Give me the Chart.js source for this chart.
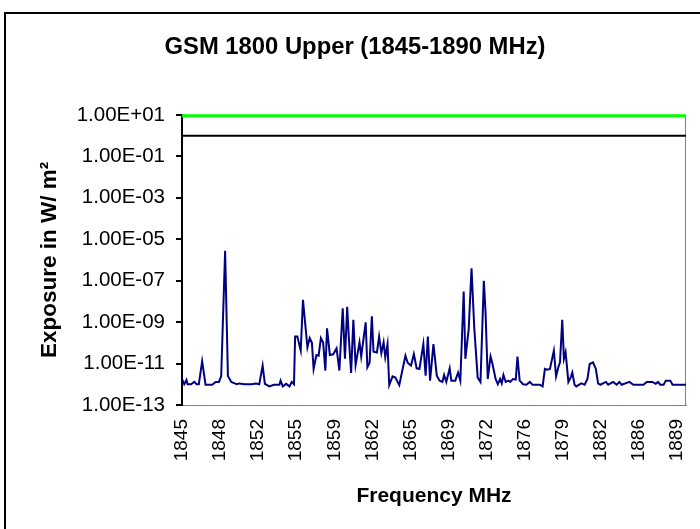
<!DOCTYPE html>
<html>
<head>
<meta charset="utf-8">
<script src="https://cdn.jsdelivr.net/npm/chart.js@4.4.1/dist/chart.umd.min.js"></script>
<style>
  body { margin: 0; background: #fff; }
  #wrap { width: 700px; height: 529px; }
</style>
</head>
<body>
<div id="wrap"><canvas id="gsmChart" width="700" height="529"></canvas></div>
<script>
const freq = [
    1845.0, 1845.2, 1845.4, 1845.5, 1845.8, 1846.1, 1846.3, 1846.5, 1846.8, 1847.1,
    1847.7, 1848.0, 1848.3, 1848.5, 1848.85, 1849.1, 1849.4, 1849.7, 1849.9, 1850.1,
    1850.6, 1851.2, 1851.6, 1851.9, 1852.2, 1852.4, 1852.8, 1853.2, 1853.7, 1853.8,
    1854.0, 1854.3, 1854.6, 1854.8, 1855.0, 1855.1, 1855.3, 1855.6, 1855.8, 1856.2,
    1856.4, 1856.6, 1856.75, 1857.0, 1857.2, 1857.4, 1857.6, 1857.8, 1857.95, 1858.2,
    1858.5, 1858.8, 1859.05, 1859.35, 1859.55, 1859.75, 1859.9, 1860.1, 1860.3, 1860.5,
    1860.85, 1861.0, 1861.4, 1861.55, 1861.75, 1861.95, 1862.1, 1862.4, 1862.6, 1862.8,
    1863.0, 1863.15, 1863.35, 1863.5, 1863.8, 1864.05, 1864.4, 1864.65, 1864.95, 1865.15,
    1865.45, 1865.7, 1865.95, 1866.2, 1866.55, 1866.75, 1866.95, 1867.15, 1867.45, 1867.75,
    1868.0, 1868.25, 1868.4, 1868.6, 1868.9, 1869.05, 1869.4, 1869.65, 1869.85, 1870.15,
    1870.3, 1870.6, 1870.85, 1871.1, 1871.4, 1871.65, 1871.95, 1872.1, 1872.3, 1872.55,
    1872.7, 1873.0, 1873.2, 1873.4, 1873.55, 1873.7, 1873.9, 1874.15, 1874.3, 1874.55,
    1874.8, 1874.95, 1875.15, 1875.45, 1875.75, 1876.05, 1876.3, 1876.95, 1877.2, 1877.4,
    1877.6, 1877.85, 1878.2, 1878.4, 1878.6, 1878.75, 1878.95, 1879.1, 1879.25, 1879.5,
    1879.7, 1879.85, 1880.05, 1880.2, 1880.65, 1880.95, 1881.2, 1881.4, 1881.7, 1881.95,
    1882.15, 1882.35, 1882.85, 1883.05, 1883.5, 1883.8, 1884.05, 1884.25, 1884.95, 1885.3,
    1886.2, 1886.5, 1887.0, 1887.3, 1887.5, 1887.7, 1888.0, 1888.2, 1888.6, 1888.8,
    1890.0
];
const exposure = [
    1.8e-12, 1.0e-12, 1.6e-12, 1.0e-12, 1.0e-12, 1.3e-12, 1.0e-12, 1.0e-12, 1.3e-11, 9.5e-13,
    9.5e-13, 1.3e-12, 1.3e-12, 2.5e-12, 2.8e-6, 2.5e-12, 1.3e-12, 1.1e-12, 1.0e-12, 1.1e-12,
    1.0e-12, 1.0e-12, 1.1e-12, 1.0e-12, 7.9e-12, 1.05e-12, 7.9e-13, 9.5e-13, 9.5e-13, 1.5e-12,
    7.9e-13, 1.05e-12, 7.9e-13, 1.3e-12, 1.0e-12, 2.0e-10, 2.0e-10, 4.2e-11, 1.2e-8, 6.0e-11,
    1.7e-10, 1.0e-10, 5.5e-12, 2.6e-11, 2.4e-11, 1.7e-10, 1.05e-10, 4.6e-12, 5.0e-10, 2.6e-11,
    2.8e-11, 5.4e-11, 4.6e-12, 4.7e-9, 1.7e-11, 5.5e-9, 1.6e-10, 3.5e-12, 1.3e-9, 8.5e-12,
    1.05e-10, 2.2e-11, 9.8e-10, 6.6e-12, 1.1e-11, 1.9e-9, 3.7e-11, 3.4e-11, 2.0e-10, 3.2e-11,
    1.05e-10, 2.0e-11, 8.7e-11, 9.1e-13, 2.4e-12, 2.1e-12, 9.1e-13, 4.1e-12, 2.4e-11, 1.1e-11,
    7.9e-12, 2.9e-11, 5.9e-12, 5.5e-12, 8.7e-11, 2.6e-12, 2.0e-10, 1.5e-12, 8.7e-11, 2.6e-12,
    1.5e-12, 1.3e-12, 2.8e-12, 1.3e-12, 5.9e-12, 1.5e-12, 1.5e-12, 3.7e-12, 1.5e-12, 3.0e-8,
    1.7e-11, 4.7e-10, 4.0e-7, 4.7e-10, 2.1e-12, 1.3e-12, 1.0e-7, 3.2e-9, 1.8e-12, 2.2e-11,
    1.1e-11, 1.8e-12, 1.0e-12, 1.8e-12, 1.1e-12, 2.8e-12, 1.3e-12, 1.5e-12, 1.3e-12, 1.8e-12,
    1.7e-12, 2.2e-11, 1.5e-12, 1.0e-12, 9.5e-13, 1.3e-12, 9.5e-13, 9.5e-13, 7.9e-13, 5.5e-12,
    5.0e-12, 5.5e-12, 4.2e-11, 2.4e-12, 6.6e-12, 1.15e-11, 1.3e-9, 1.7e-11, 3.5e-11, 1.3e-12,
    2.1e-12, 3.7e-12, 9.5e-13, 7.9e-13, 1.1e-12, 9.5e-13, 1.8e-12, 9.5e-12, 1.15e-11, 5.5e-12,
    1.1e-12, 9.5e-13, 1.3e-12, 9.5e-13, 1.3e-12, 9.5e-13, 1.3e-12, 9.5e-13, 1.3e-12, 9.5e-13,
    9.5e-13, 1.3e-12, 1.3e-12, 1.05e-12, 1.3e-12, 9.5e-13, 9.5e-13, 1.5e-12, 1.5e-12, 9.5e-13,
    9.5e-13
];

// Reference level lines across the band
const limitFreq = [1845, 1890];
const upperLimit = [9.25, 9.25];
const lowerLimit = [1, 1];

// Tick labels
const xTickValues = [1845, 1848.4, 1851.8, 1855.2, 1858.6, 1862, 1865.4, 1868.8, 1872.2, 1875.6, 1879, 1882.4, 1885.8, 1889.2];
const xTickLabels = ['1845', '1848', '1852', '1855', '1859', '1862', '1865', '1869', '1872', '1876', '1879', '1882', '1886', '1889'];
const yTickValues = [1e1, 1e-1, 1e-3, 1e-5, 1e-7, 1e-9, 1e-11, 1e-13];
const yTickLabels = ['1.00E+01', '1.00E-01', '1.00E-03', '1.00E-05', '1.00E-07', '1.00E-09', '1.00E-11', '1.00E-13'];

const FONT = 'Liberation Sans, Arial, sans-serif';

const frames = {
    id: 'frames',
    beforeDraw(chart) {
        const { ctx, chartArea } = chart;
        ctx.save();
        ctx.strokeStyle = '#000';
        ctx.lineWidth = 2;
        ctx.strokeRect(5, 13, 720, 540);
        ctx.strokeStyle = '#808080';
        ctx.lineWidth = 1;
        ctx.strokeRect(chartArea.left, chartArea.top + 0.5, chartArea.right - chartArea.left - 0.5, chartArea.bottom - chartArea.top);
        ctx.restore();
    }
};

const toPoints = (xs, ys) => xs.map((x, i) => ({ x: x, y: ys[i] }));

new Chart(document.getElementById('gsmChart'), {
    type: 'line',
    data: {
        datasets: [{
            data: toPoints(limitFreq, upperLimit),
            borderColor: '#00ff00',
            borderWidth: 3,
            pointRadius: 0,
            clip: false
        }, {
            data: toPoints(limitFreq, lowerLimit),
            borderColor: '#000000',
            borderWidth: 2,
            pointRadius: 0
        }, {
            data: toPoints(freq, exposure),
            borderColor: '#000080',
            borderWidth: 2,
            pointRadius: 0,
            tension: 0
        }]
    },
    options: {
        responsive: false,
        animation: false,
        layout: { padding: { left: 24, right: 14, top: 0, bottom: 0 } },
        plugins: {
            legend: { display: false },
            tooltip: { enabled: false },
            title: {
                display: true,
                text: 'GSM 1800 Upper (1845-1890 MHz)',
                color: '#000',
                font: { family: FONT, size: 23.8, weight: 'bold' },
                padding: { top: 33, bottom: 53.4 }
            }
        },
        scales: {
            x: {
                type: 'linear',
                min: 1845,
                max: 1890,
                afterBuildTicks: (scale) => { scale.ticks = xTickValues.map(v => ({ value: v })); },
                afterFit: (scale) => {
                    scale.height = 124;
                    scale.paddingLeft = 0;
                    scale.paddingRight = 0;
                },
                grid: { display: false },
                border: { display: true, color: '#808080', width: 1 },
                ticks: {
                    autoSkip: false,
                    maxRotation: 90,
                    minRotation: 90,
                    padding: 6,
                    color: '#000',
                    font: { family: FONT, size: 19 },
                    callback: (value, index) => xTickLabels[index]
                },
                title: {
                    display: true,
                    text: 'Frequency MHz',
                    color: '#000',
                    font: { family: FONT, size: 21, weight: 'bold' },
                    padding: { top: 0, bottom: 20 }
                }
            },
            y: {
                type: 'logarithmic',
                min: 1e-13,
                max: 1e1,
                afterBuildTicks: (scale) => { scale.ticks = yTickValues.map(v => ({ value: v })); },
                afterFit: (scale) => { scale.width = 158; },
                grid: { drawOnChartArea: false, drawTicks: true, tickLength: 6, tickColor: '#000', lineWidth: 2 },
                border: { display: true, color: '#000', width: 2 },
                ticks: {
                    padding: 11,
                    color: '#000',
                    font: { family: FONT, size: 20.5 },
                    callback: (value, index) => yTickLabels[index]
                },
                title: {
                    display: true,
                    text: 'Exposure in W/ m²',
                    color: '#000',
                    font: { family: FONT, size: 22.5, weight: 'bold' },
                    padding: { top: 12, bottom: 0 }
                }
            }
        }
    },
    plugins: [frames]
});
</script>
</body>
</html>
